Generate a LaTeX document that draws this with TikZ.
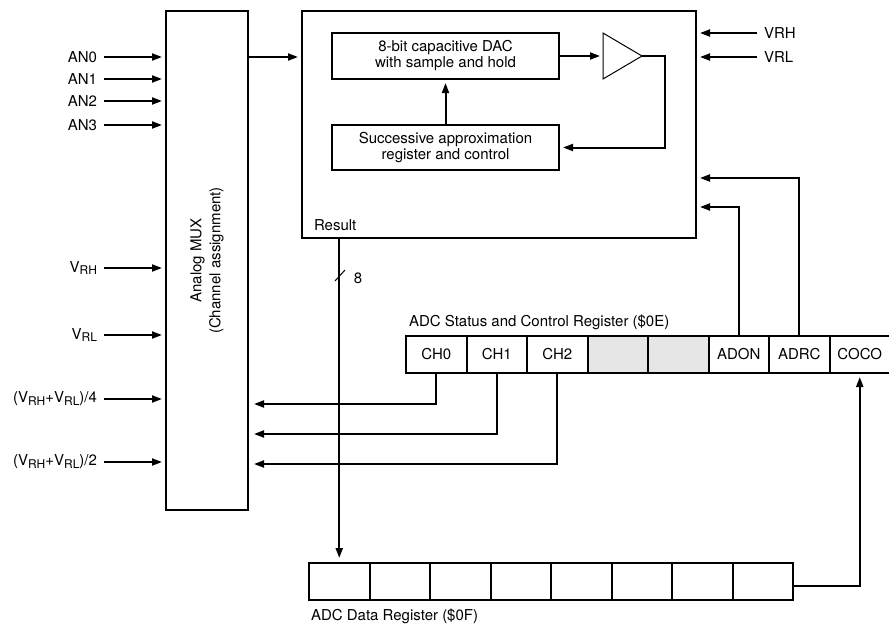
\documentclass[tikz,border=0pt]{standalone}
\usepackage{fontspec}
\setmainfont{TeX Gyre Heros}
\usepackage{xcolor}
\usepackage{tikz}
\usetikzlibrary{arrows.meta}
\usetikzlibrary{positioning,calc}
\definecolor{cellgray}{RGB}{230,230,230}
\newcommand{\vsub}[1]{\raisebox{-0.35ex}{\fontsize{12}{12}\selectfont #1}}

\begin{document}
\begin{tikzpicture}[x=1pt,y=-1pt,line width=2pt,
	font=\fontsize{15}{16}\selectfont,
	blk/.style={draw,line width=2pt,inner sep=0pt,align=center},
	arr/.style={-{Triangle[length=10pt,width=7pt]},shorten >=3pt},
	inlbl/.style={anchor=east,inner xsep=6pt,inner ysep=0pt},
	outlbl/.style={anchor=west,inner xsep=6pt,inner ysep=0pt},
	regcell/.style={draw,line width=2pt,minimum width=60.5pt,minimum height=37pt,inner sep=0pt}]
	\useasboundingbox (0,0) rectangle (889,624);
	% mux and converter blocks
	\node[blk,minimum width=82pt,minimum height=499pt] (mux) at (207,260.5) {};
	\node[rotate=90,align=center,font=\fontsize{15}{19}\selectfont] (muxtxt) at (mux.center) {Analog MUX\\(Channel assignment)};
	\node[blk,minimum width=394pt,minimum height=227pt] (adc) at (499,124.5) {};
	\node[blk,minimum width=227pt,minimum height=46pt] (dac) at (445.5,56) {8-bit capacitive DAC\\with sample and hold};
	\node[blk,minimum width=227pt,minimum height=45pt] (sar) at (445.5,147.5) {Successive approximation\\register and control};
	% comparator
	\coordinate (ampin) at (603,56);
	\coordinate (ampout) at (642,56);
	\draw[line width=1pt] (603,33) -- (ampout) -- (603,79) -- cycle;
	\draw[arr] (sar.north) -- (dac.south);
	\draw[arr] (dac.east) -- (ampin);
	\draw[arr] (ampout) -- ++(23,0) |- (sar.east);
	% analog inputs
	\foreach \i/\yy in {0/57,1/79,2/101,3/125}{
		\node[inlbl] (an\i) at (104,\yy) {AN\i};
		\draw[arr] (an\i.east) -- (an\i.east -| mux.west);
	}
	\node[inlbl] (vrhin) at (104,268) {V\vsub{RH}};
	\node[inlbl] (vrlin) at (104,335) {V\vsub{RL}};
	\node[inlbl] (quarter) at (104,399) {(V\vsub{RH}+V\vsub{RL})/4};
	\node[inlbl] (half) at (104,462) {(V\vsub{RH}+V\vsub{RL})/2};
	\foreach \nm in {vrhin,vrlin,quarter,half}
		\draw[arr] (\nm.east) -- (\nm.east -| mux.west);
	\draw[arr] (an0.east -| mux.east) -- (an0.east -| adc.west);
	% reference inputs
	\node[outlbl] (vrh) at (757,33) {VRH};
	\node[outlbl] (vrl) at (757,57) {VRL};
	\draw[arr] (vrh.west) -- (vrh.west -| adc.east);
	\draw[arr] (vrl.west) -- (vrl.west -| adc.east);
	% status and control register
	\node[anchor=base west,inner sep=0pt] (stlbl) at (408,326) {ADC Status and Control Register (\$0E)};
	\foreach \i/\lbl/\fc in {0/CH0/white,1/CH1/white,2/CH2/white,3//cellgray,4//cellgray,5/ADON/white,6/ADRC/white,7/COCO/white}
		\node[regcell,fill=\fc] (s\i) at (436.25+60.5*\i,354.5) {\lbl};
	% data register
	\foreach \i in {0,...,7}
		\node[regcell] (d\i) at (339.25+60.5*\i,581.5) {};
	\node[anchor=base west,inner sep=0pt] (dtlbl) at (310,620) {ADC Data Register (\$0F)};
	% connections
	\draw[arr,shorten >=5pt] (s0.south) |- (mux.east |- 0,404);
	\draw[arr,shorten >=5pt] (s1.south) |- (mux.east |- 0,434);
	\draw[arr,shorten >=5pt] (s2.south) |- (mux.east |- 0,464);
	\draw[arr] (s5.north) |- (adc.east |- 0,207);
	\draw[arr] (s6.north) |- (adc.east |- 0,178);
	\draw[arr] ([yshift=-4pt]d7.east) -| (s7.south);
	\node[anchor=base west,inner sep=0pt] (result) at (313,230) {Result};
	\draw[arr,shorten >=4pt] (d0.north |- adc.south) -- (d0.north);
	\draw[line width=1pt] (335,281) -- (345,270);
	\node (bits) at (358,278) {8};
\end{tikzpicture}
\end{document}
